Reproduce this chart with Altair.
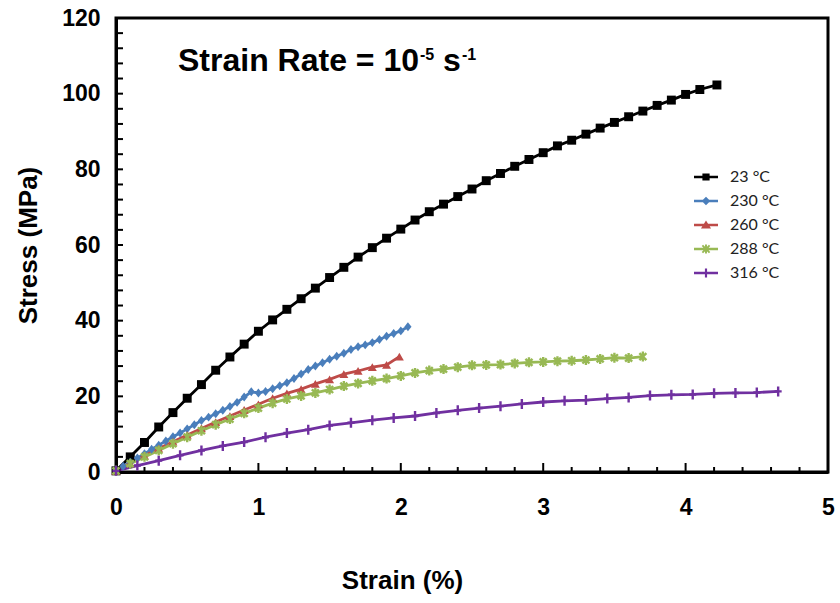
import altair as alt
import pandas as pd

# ---------------- data ----------------
series_names = ["23 °C", "230 °C", "260 °C", "288 °C", "316 °C"]
series_colors = ["#000000", "#4A7EBB", "#BE4B48", "#98B954", "#7030A0"]

strain_23 = [0.0, 0.1, 0.2, 0.3, 0.4, 0.5, 0.6, 0.7, 0.8, 0.9, 1.0, 1.1, 1.2, 1.3, 1.4,
             1.5, 1.6, 1.7, 1.8, 1.9, 2.0, 2.1, 2.2, 2.3, 2.4, 2.5, 2.6, 2.7, 2.8, 2.9,
             3.0, 3.1, 3.2, 3.3, 3.4, 3.5, 3.6, 3.7, 3.8, 3.9, 4.0, 4.1, 4.22]
stress_23 = [0.3, 4.0, 7.8, 11.9, 15.7, 19.5, 23.1, 26.9, 30.4, 33.8, 37.2, 40.2, 43.0,
             45.8, 48.6, 51.4, 54.1, 56.8, 59.3, 61.8, 64.2, 66.6, 68.8, 70.8, 72.8, 74.8,
             77.0, 78.9, 80.8, 82.6, 84.4, 86.2, 87.7, 89.3, 90.9, 92.4, 93.9, 95.4, 96.9,
             98.3, 99.8, 101.1, 102.3]

strain_230 = [0.0, 0.05, 0.1, 0.15, 0.2, 0.25, 0.3, 0.35, 0.4, 0.45, 0.5, 0.55, 0.6, 0.65,
              0.7, 0.75, 0.8, 0.85, 0.9, 0.95, 1.0, 1.05, 1.1, 1.15, 1.2, 1.25, 1.3, 1.35,
              1.4, 1.45, 1.5, 1.55, 1.6, 1.65, 1.7, 1.75, 1.8, 1.85, 1.9, 1.95, 2.0, 2.05]
stress_230 = [0.5, 1.5, 2.6, 3.7, 4.8, 6.0, 7.1, 8.2, 9.3, 10.3, 11.4, 12.5, 13.6, 14.5,
              15.4, 16.3, 17.3, 18.4, 19.8, 21.2, 20.9, 21.3, 22.0, 22.8, 23.6, 24.7, 25.9,
              27.1, 28.0, 28.9, 29.8, 30.6, 31.4, 32.4, 33.1, 33.6, 34.2, 35.0, 35.9, 36.6,
              37.3, 38.4]

strain_260 = [0.0, 0.1, 0.2, 0.3, 0.4, 0.5, 0.6, 0.7, 0.8, 0.9, 1.0, 1.1, 1.2, 1.3, 1.4,
              1.5, 1.6, 1.7, 1.8, 1.9, 1.99]
stress_260 = [0.3, 2.3, 4.3, 6.2, 8.0, 9.8, 11.5, 13.2, 14.8, 16.4, 17.9, 19.5, 20.8, 21.9,
              23.3, 24.5, 25.9, 26.7, 27.7, 28.3, 30.5]

strain_288 = [0.0, 0.1, 0.2, 0.3, 0.4, 0.5, 0.6, 0.7, 0.8, 0.9, 1.0, 1.1, 1.2, 1.3, 1.4,
              1.5, 1.6, 1.7, 1.8, 1.9, 2.0, 2.1, 2.2, 2.3, 2.4, 2.5, 2.6, 2.7, 2.8, 2.9,
              3.0, 3.1, 3.2, 3.3, 3.4, 3.5, 3.6, 3.7]
stress_288 = [0.3, 2.2, 4.0, 5.7, 7.5, 9.2, 10.9, 12.5, 14.0, 15.5, 16.9, 18.2, 19.3, 20.1,
              20.9, 21.8, 22.7, 23.4, 24.1, 24.7, 25.4, 26.2, 26.8, 27.2, 27.7, 28.2, 28.3,
              28.4, 28.7, 29.0, 29.1, 29.3, 29.4, 29.6, 29.9, 30.2, 30.1, 30.5]

strain_316 = [0.0, 0.15, 0.3, 0.45, 0.6, 0.75, 0.9, 1.05, 1.2, 1.35, 1.5, 1.65, 1.8, 1.95,
              2.1, 2.25, 2.4, 2.55, 2.7, 2.85, 3.0, 3.15, 3.3, 3.45, 3.6, 3.75, 3.9, 4.05,
              4.2, 4.35, 4.5, 4.65]
stress_316 = [0.3, 1.7, 3.0, 4.4, 5.7, 6.9, 7.9, 9.2, 10.3, 11.2, 12.3, 13.0, 13.7, 14.3,
              14.8, 15.6, 16.3, 16.9, 17.4, 18.0, 18.5, 18.8, 19.0, 19.4, 19.7, 20.2, 20.4,
              20.5, 20.8, 20.9, 21.0, 21.3]

x_label_values = [0, 1, 2, 3, 4, 5]
x_minor_ticks = [0.2, 0.4, 0.6, 0.8, 1.2, 1.4, 1.6, 1.8, 2.2, 2.4, 2.6, 2.8, 3.2, 3.4,
                 3.6, 3.8, 4.2, 4.4, 4.6, 4.8]
x_major_ticks = [1, 2, 3, 4]
y_label_values = [0, 20, 40, 60, 80, 100, 120]
y_ticks = [4, 8, 12, 16, 20, 24, 28, 32, 36, 40, 44, 48, 52, 56, 60, 64, 68, 72, 76, 80,
           84, 88, 92, 96, 100, 104, 108, 112, 116]

title_main = "Strain Rate = 10"
title_sup1 = "-5"
title_unit = "s"
title_sup2 = "-1"

x_title = "Strain (%)"
y_title = "Stress (MPa)"

# ---------------- table ----------------
frames = []
for name, xs, ys in zip(series_names,
                        [strain_23, strain_230, strain_260, strain_288, strain_316],
                        [stress_23, stress_230, stress_260, stress_288, stress_316]):
    frames.append(pd.DataFrame({"strain": xs, "stress": ys, "series": name}))
df = pd.concat(frames, ignore_index=True)

# ---------------- marker shapes ----------------
def seg(x1, y1, x2, y2, h):
    dx, dy = x2 - x1, y2 - y1
    L = (dx * dx + dy * dy) ** 0.5
    nx, ny = dy / L * h, -dx / L * h
    pts = [(x1 + nx, y1 + ny), (x2 + nx, y2 + ny), (x2 - nx, y2 - ny), (x1 - nx, y1 - ny)]
    return "M" + "L".join(f"{a:.3f},{b:.3f}" for a, b in pts) + "Z"

plot_shapes = [
    "square",
    "M0,-1L0.8,0L0,1L-0.8,0Z",
    "triangle-up",
    "M-0.7,-0.7L0.7,0.7M-0.7,0.7L0.7,-0.7M0,-1L0,1",
    "M0,-1L0,1M-0.7,0L0.7,0",
]
leg_line = seg(-1, 0, 1, 0, 0.11)
legend_shapes = [
    leg_line + "M-0.3,-0.3H0.3V0.3H-0.3Z",
    leg_line + "M0,-0.36L0.36,0L0,0.36L-0.36,0Z",
    leg_line + "M0,-0.38L0.42,0.3L-0.42,0.3Z",
    leg_line + seg(-0.3, -0.3, 0.3, 0.3, 0.08) + seg(-0.3, 0.3, 0.3, -0.3, 0.08) + seg(0, -0.38, 0, 0.38, 0.08),
    leg_line + seg(0, -0.38, 0, 0.38, 0.09),
]

FONT = "Liberation Sans"
W, H = 712, 454

xscale = alt.Scale(domain=[0, 5], nice=False, zero=False)
yscale = alt.Scale(domain=[0, 120], nice=False, zero=False)


def color_enc(legend=None):
    return alt.Color("series:N", scale=alt.Scale(domain=series_names, range=series_colors),
                     legend=legend)


def shape_enc(rng, legend=None):
    return alt.Shape("series:N", scale=alt.Scale(domain=series_names, range=rng), legend=legend)


main_x_axis = alt.Axis(values=x_label_values, labelFont=FONT, labelFontSize=23,
                       labelFontWeight="bold", labelColor="black", labelPadding=24,
                       labelFlush=False, labelOverlap=False, ticks=False, tickSize=0,
                       domain=True, domainColor="black", domainWidth=3, grid=False,
                       title=x_title, titleFont=FONT,
                       titleFontSize=26, titleFontWeight="bold", titleColor="black",
                       titlePadding=48, titleX=286)
main_y_axis = alt.Axis(values=y_label_values, labelFont=FONT, labelFontSize=23,
                       labelFontWeight="bold", labelColor="black", labelPadding=16,
                       labelFlush=False, labelOverlap=False, ticks=False, tickSize=0,
                       domain=True, domainColor="black", domainWidth=3, grid=False,
                       title=y_title, titleFont=FONT,
                       titleFontSize=26, titleFontWeight="bold", titleColor="black",
                       titlePadding=20)


def X(field="strain:Q"):
    return alt.X(field, scale=xscale, axis=main_x_axis)


def Y(field="stress:Q"):
    return alt.Y(field, scale=yscale, axis=main_y_axis)


lines = alt.Chart(df).mark_line(strokeWidth=2.8).encode(
    x=X(), y=Y(), color=color_enc(), detail="series:N",
)

filled_pts = alt.Chart(df).transform_filter(
    alt.FieldOneOfPredicate(field="series", oneOf=series_names[:3])
).mark_point(filled=True, opacity=1, size=80).encode(
    x=X(), y=Y(), color=color_enc(), shape=shape_enc(plot_shapes),
)

stroke_pts = alt.Chart(df).transform_filter(
    alt.FieldOneOfPredicate(field="series", oneOf=series_names[3:])
).mark_point(filled=False, opacity=1, size=100, strokeWidth=2.4).encode(
    x=X(), y=Y(), color=color_enc(), shape=shape_enc(plot_shapes),
)

# inward tick marks drawn from the tick lists
x_minor = alt.Chart(pd.DataFrame({"strain": x_minor_ticks})).mark_rule(
    color="black", strokeWidth=2
).encode(x=X(), y=alt.value(H), y2=alt.value(H - 5))
x_major = alt.Chart(pd.DataFrame({"strain": x_major_ticks})).mark_rule(
    color="black", strokeWidth=2
).encode(x=X(), y=alt.value(H), y2=alt.value(H - 9))
y_minor = alt.Chart(pd.DataFrame({"stress": y_ticks})).mark_rule(
    color="black", strokeWidth=2
).encode(y=Y(), x=alt.value(0), x2=alt.value(7))

leg = alt.Legend(title=None, orient="none", legendX=578, legendY=147, symbolSize=576,
                 symbolStrokeWidth=0, labelFont="Lato", labelFontSize=16,
                 labelColor="#222222", labelOffset=12, rowPadding=4, padding=0)

legend_layer = alt.Chart(df).transform_filter("datum.strain < -1").mark_point(
    filled=True, opacity=1
).encode(
    x=X(), y=Y(),
    color=color_enc(leg),
    shape=shape_enc(legend_shapes, leg),
)


def label(txt, x, y, size, align="left"):
    return alt.Chart(alt.Data(values=[{"t": txt}])).mark_text(
        font=FONT, fontWeight="bold", fontSize=size, align=align, baseline="alphabetic",
        color="black"
    ).encode(x=alt.value(x), y=alt.value(y), text="t:N")


t1 = label(title_main, 62, 53, 32)
t2 = label(title_sup1, 304, 42, 16)
t3 = label(title_unit, 327, 53, 32)
t4 = label(title_sup2, 346, 42, 16)

chart = alt.layer(
    lines, filled_pts, stroke_pts, x_minor, x_major, y_minor, legend_layer, t1, t2, t3, t4
).resolve_scale(
    color="independent", shape="independent"
).properties(
    width=W, height=H,
    padding={"left": 116, "top": 18, "right": 12, "bottom": 131},
    autosize=alt.AutoSizeParams(type="none"),
    background="white",
).configure_view(stroke="black", strokeWidth=3)

chart.save("out.html", embed_options={"renderer": "svg", "actions": False})
